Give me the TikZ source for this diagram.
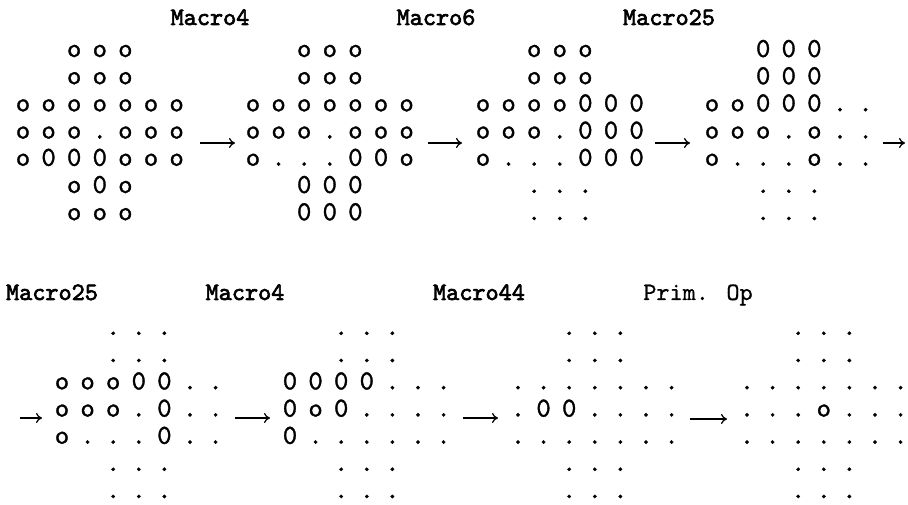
\documentclass[tikz,border=0pt]{standalone}
\usepackage{fontspec}
\usepackage{tikz}
\usetikzlibrary{arrows.meta}

\newfontfamily\pegfont{Latin Modern Mono}[FakeBold=1.2]
\newfontfamily\namefont{Latin Modern Mono}[FakeBold=2.6]
\newfontfamily\opfont{Latin Modern Mono}[FakeBold=0.8]

% one peg board: name, top-left cell, rows (3 cells in rows 1,2,6,7, else 7)
\newcommand{\pegboard}[3]{%
  \begin{scope}[shift={(#2)}]
    \foreach \prow [count=\ri] in {#3} {
      \ifnum\ri<3 \def\coff{2}\else\ifnum\ri>5 \def\coff{2}\else\def\coff{0}\fi\fi
      \foreach \cell [count=\ci] in \prow {
        \node[peg] (#1-\ri-\ci) at ({(\ci+\coff-1)*25.6},{(\ri-1)*27.2}) {\cell};
      }
    }
  \end{scope}
}

\begin{document}
\begin{tikzpicture}[
  x=0.4pt, y=-0.4pt,
  peg/.style={anchor=base, inner sep=0pt, font=\fontsize{11}{13}\selectfont\pegfont\bfseries},
  steplabel/.style={anchor=base, inner sep=0pt, font=\fontsize{10}{12}\selectfont\namefont\bfseries},
  oplabel/.style={steplabel, font=\fontsize{10}{12}\selectfont\opfont\bfseries},
  move/.style={-{To[length=2.4pt,width=4pt]}, line width=0.5pt}
]
\useasboundingbox (0,0) rectangle (908,505);

% top row of boards
\coordinate (b1) at (23,57);
\coordinate (b2) at (253,57);
\coordinate (b3) at (483,57);
\coordinate (b4) at (712,57);
\pegboard{b1}{b1}{{o,o,o},{o,o,o},{o,o,o,o,o,o,o},{o,o,o,.,o,o,o},{o,0,0,0,o,o,o},{o,0,o},{o,o,o}}
\pegboard{b2}{b2}{{o,o,o},{o,o,o},{o,o,o,o,o,o,o},{o,o,o,.,o,o,o},{o,.,.,.,0,0,o},{0,0,0},{0,0,0}}
\pegboard{b3}{b3}{{o,o,o},{o,o,o},{o,o,o,o,0,0,0},{o,o,o,.,0,0,0},{o,.,.,.,0,0,0},{.,.,.},{.,.,.}}
\pegboard{b4}{b4}{{0,0,0},{0,0,0},{o,o,0,0,0,.,.},{o,o,o,.,o,.,.},{o,.,.,.,o,.,.},{.,.,.},{.,.,.}}

% bottom row of boards
\coordinate (b5) at (62,335);
\coordinate (b6) at (290,335);
\coordinate (b7) at (518,335);
\coordinate (b8) at (747,335);
\pegboard{b5}{b5}{{.,.,.},{.,.,.},{o,o,o,0,0,.,.},{o,o,o,.,0,.,.},{o,.,.,.,0,.,.},{.,.,.},{.,.,.}}
\pegboard{b6}{b6}{{.,.,.},{.,.,.},{0,0,0,0,.,.,.},{0,o,0,.,.,.,.},{0,.,.,.,.,.,.},{.,.,.},{.,.,.}}
\pegboard{b7}{b7}{{.,.,.},{.,.,.},{.,.,.,.,.,.,.},{.,0,0,.,.,.,.},{.,.,.,.,.,.,.},{.,.,.},{.,.,.}}
\pegboard{b8}{b8}{{.,.,.},{.,.,.},{.,.,.,.,.,.,.},{.,.,.,o,.,.,.},{.,.,.,.,.,.,.},{.,.,.},{.,.,.}}

% step names
\node[steplabel] (m1) at (210,25) {Macro4};
\node[steplabel] (m2) at (436,25) {Macro6};
\node[steplabel] (m3) at (669,25) {Macro25};
\node[steplabel] (m4) at (52,300) {Macro25};
\node[steplabel] (m5) at (245,300) {Macro4};
\node[steplabel] (m6) at (479,300) {Macro44};
\node[oplabel] (m7) at (698,300) {Prim. Op};

% arrow ends
\coordinate (a1s) at (200,143); \coordinate (a1e) at (235,143);
\coordinate (a2s) at (428,143); \coordinate (a2e) at (462,143);
\coordinate (a3s) at (655,143); \coordinate (a3e) at (690,143);
\coordinate (a4s) at (883,143); \coordinate (a4e) at (905,143);
\coordinate (a5s) at (20,418);  \coordinate (a5e) at (42,418);
\coordinate (a6s) at (235,418); \coordinate (a6e) at (270,418);
\coordinate (a7s) at (463,418); \coordinate (a7e) at (498,418);
\coordinate (a8s) at (690,419); \coordinate (a8e) at (727,419);

\foreach \k in {1,...,8} {
  \draw[move] (a\k s) -- (a\k e);
}
\end{tikzpicture}
\end{document}
